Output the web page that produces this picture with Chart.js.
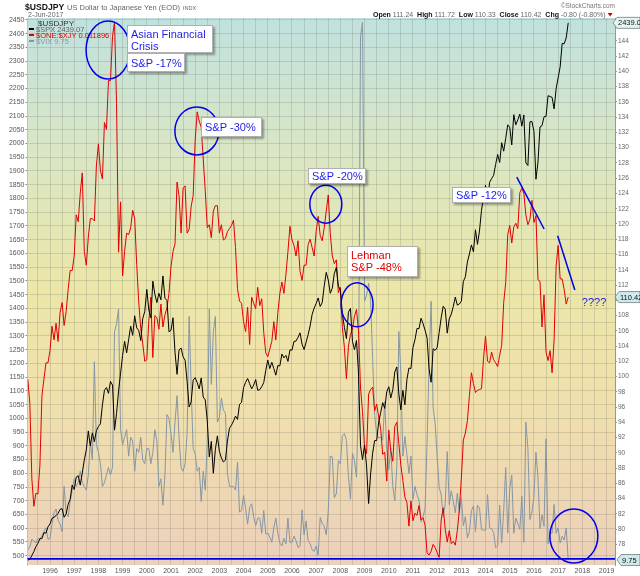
<!DOCTYPE html>
<html>
<head>
<meta charset="utf-8">
<script src="https://cdn.jsdelivr.net/npm/chart.js@4.4.1/dist/chart.umd.min.js"></script>
<style>
  html, body { margin: 0; padding: 0; background: #fff; }
  #wrap { width: 640px; height: 576px; }
</style>
</head>
<body>
<div id="wrap"><canvas id="usdjpyChart" width="640" height="576"></canvas></div>
<script>
// monthly readings, first value = end of Jan 1995, last value = 2-Jun-2017
const firstMonth = 1995 + 1 / 12;

const spx = [
  484, 487, 501, 515, 533, 545, 562, 562, 584, 582, 605, 616,          // 1995
  636, 640, 646, 654, 669, 671, 640, 652, 687, 705, 757, 741,          // 1996
  786, 791, 757, 801, 848, 885, 954, 899, 947, 915, 955, 970,          // 1997
  980, 1049, 1102, 1112, 1091, 1134, 1121, 957, 1017, 1099, 1164, 1229, // 1998
  1280, 1238, 1286, 1335, 1302, 1373, 1329, 1320, 1283, 1363, 1389, 1469,
  1394, 1366, 1499, 1452, 1421, 1455, 1431, 1518, 1437, 1429, 1315, 1320,
  1366, 1240, 1160, 1249, 1256, 1224, 1211, 1134, 1041, 1060, 1139, 1148,
  1130, 1107, 1147, 1077, 1067, 990, 860, 916, 800, 886, 936, 880,     // 2002
  856, 841, 848, 917, 964, 975, 990, 1008, 996, 1051, 1058, 1112,
  1131, 1145, 1126, 1107, 1121, 1141, 1102, 1104, 1115, 1130, 1174, 1212,
  1181, 1204, 1181, 1157, 1192, 1191, 1234, 1220, 1229, 1207, 1249, 1248,
  1280, 1281, 1295, 1311, 1270, 1250, 1277, 1304, 1336, 1378, 1401, 1418,
  1438, 1407, 1421, 1482, 1531, 1503, 1455, 1474, 1527, 1549, 1481, 1468, // 2007
  1379, 1331, 1290, 1386, 1400, 1280, 1250, 1283, 1165, 900, 850, 903, // 2008
  826, 690, 798, 873, 919, 919, 987, 1021, 1057, 1036, 1096, 1115,
  1074, 1104, 1169, 1187, 1089, 1031, 1102, 1049, 1141, 1183, 1181, 1258,
  1286, 1327, 1326, 1364, 1345, 1321, 1292, 1180, 1131, 1253, 1247, 1258,
  1312, 1366, 1408, 1398, 1310, 1362, 1379, 1407, 1441, 1412, 1416, 1426,
  1498, 1515, 1569, 1598, 1631, 1606, 1686, 1633, 1682, 1757, 1806, 1848,
  1783, 1859, 1872, 1884, 1924, 1960, 1931, 2003, 1972, 2018, 2068, 2059,
  1995, 2105, 2068, 2086, 2107, 2063, 2104, 1930, 1920, 2079, 2080, 2044, // 2015
  1870, 1932, 2060, 2065, 2097, 2099, 2174, 2171, 2168, 2126, 2199, 2239,
  2279, 2364, 2363, 2384, 2439.07                                       // 2017
];

const usdjpy = [
  99.6, 96.5, 86.6, 83.0, 84.7, 84.6, 88.4, 97.5, 99.7, 101.8, 101.8, 103.4,
  106.6, 104.8, 107.0, 104.6, 108.4, 109.7, 106.7, 108.5, 111.4, 113.9, 113.9, 115.8,
  121.2, 120.3, 124.0, 126.7, 116.4, 114.6, 118.3, 120.7, 120.7, 120.4, 127.6, 130.5,
  127.0, 125.9, 133.3, 132.4, 138.8, 138.8, 144.6, 146.5, 135.8, 116.3, 122.9, 113.2, // 1998
  116.4, 118.8, 118.6, 119.5, 121.8, 120.7, 114.7, 109.8, 106.3, 104.3, 102.0, 102.2,
  107.3, 110.4, 102.5, 108.0, 107.7, 106.2, 109.5, 106.5, 108.1, 109.0, 110.9, 114.4,
  116.4, 117.4, 125.5, 123.7, 118.8, 124.7, 125.0, 118.8, 119.3, 122.3, 123.7, 131.0,
  134.7, 133.5, 132.7, 128.5, 124.3, 119.5, 119.9, 118.2, 121.7, 122.4, 122.4, 118.8, // 2002
  119.9, 117.9, 118.1, 119.0, 119.4, 119.8, 120.5, 116.9, 111.5, 109.9, 109.6, 107.2,
  105.9, 109.1, 104.2, 110.4, 109.6, 108.9, 111.7, 109.3, 110.2, 105.8, 103.1, 102.6,
  103.6, 104.6, 107.2, 104.8, 108.4, 110.9, 112.4, 110.9, 113.4, 116.4, 119.7, 117.9,
  117.2, 115.8, 117.8, 113.8, 112.6, 114.6, 114.6, 117.3, 118.0, 116.9, 115.8, 119.0,
  121.0, 118.5, 117.8, 119.5, 121.7, 123.8, 118.7, 115.8, 114.8, 115.3, 111.0, 111.7, // 2007
  106.4, 103.8, 99.7, 104.0, 105.5, 106.2, 107.9, 108.8, 106.0, 98.5, 95.4, 90.6,
  89.9, 97.7, 98.3, 98.6, 95.5, 96.4, 94.7, 93.1, 89.8, 90.1, 86.3, 93.0,
  90.3, 88.9, 93.5, 94.0, 91.2, 88.4, 86.4, 84.2, 83.5, 80.4, 83.7, 81.1,
  82.1, 81.8, 83.1, 81.2, 81.5, 80.5, 76.9, 76.6, 77.1, 78.0, 77.6, 76.9,
  76.3, 81.2, 82.8, 80.0, 78.3, 79.8, 78.1, 78.4, 77.9, 79.8, 82.5, 86.7,
  91.7, 92.6, 94.2, 97.5, 100.5, 99.1, 97.9, 98.2, 98.3, 98.4, 102.4, 105.3,
  102.0, 101.8, 103.2, 102.2, 101.8, 101.3, 102.8, 104.1, 109.7, 112.3, 118.6, 119.8,
  117.5, 119.6, 120.1, 119.4, 124.1, 124.7, 124.0, 121.2, 119.9, 120.6, 123.1, 120.2, // 2015
  121.1, 112.7, 112.5, 106.5, 110.7, 103.2, 102.1, 103.4, 100.5, 104.8, 114.5, 117.2,
  112.8, 112.8, 111.4, 109.5, 110.42                                                    // 2017
];

const vix = [
  11.1, 11.5, 12.5, 12.3, 12.0, 12.6, 12.5, 13.0, 13.5, 14.0, 12.5, 12.6,
  14.5, 16.0, 16.5, 15.0, 14.5, 13.5, 19.5, 16.0, 15.5, 17.5, 19.0, 20.5,
  19.5, 20.0, 21.5, 20.0, 19.5, 19.0, 21.0, 25.5, 23.0, 36.0, 25.0, 24.0,
  22.5, 19.5, 20.0, 21.0, 22.0, 21.0, 22.0, 40.0, 41.0, 43.0, 27.0, 25.0, // 1998
  26.0, 27.0, 23.5, 26.0, 25.5, 21.5, 24.5, 24.0, 26.0, 23.0, 22.5, 24.5,
  24.5, 22.5, 24.0, 27.0, 25.5, 19.5, 20.5, 17.0, 21.0, 29.0, 28.5, 26.5,
  24.0, 28.0, 31.5, 26.0, 22.0, 21.5, 22.5, 26.5, 42.0, 32.5, 24.5, 23.8,
  21.5, 22.0, 17.5, 21.5, 19.0, 25.5, 43.0, 33.0, 40.0, 42.0, 28.0, 28.6, // 2002
  31.2, 29.6, 29.2, 21.2, 19.5, 19.5, 19.5, 19.0, 22.7, 16.1, 16.3, 18.3,
  16.6, 14.5, 16.7, 17.2, 15.5, 14.3, 15.3, 15.3, 13.3, 16.3, 13.2, 13.3,
  12.8, 12.1, 14.0, 15.3, 13.3, 12.0, 11.6, 12.6, 11.9, 15.3, 12.1, 12.1,
  12.9, 12.3, 11.4, 11.6, 16.4, 13.1, 14.9, 12.3, 11.9, 11.1, 10.9, 11.6,
  10.4, 15.4, 14.6, 14.2, 13.1, 16.2, 23.5, 23.4, 18.0, 18.5, 22.9, 22.5,
  26.2, 26.5, 25.6, 20.8, 17.8, 23.9, 22.9, 20.7, 32.0, 79.1, 80.9, 44.0, // 2008
  44.8, 46.4, 44.1, 36.5, 28.9, 26.4, 25.9, 26.0, 25.6, 30.7, 24.5, 21.7,
  24.6, 19.5, 17.6, 22.1, 40.0, 34.5, 23.5, 26.1, 23.7, 21.2, 23.5, 17.8,
  19.5, 18.4, 17.7, 14.8, 15.5, 16.5, 25.3, 36.0, 44.0, 29.9, 27.8, 23.4,
  19.4, 18.4, 15.5, 17.2, 24.1, 17.1, 18.9, 17.5, 16.0, 18.6, 16.0, 18.0,
  14.3, 15.5, 12.7, 13.5, 16.3, 16.9, 13.5, 17.0, 16.6, 13.8, 13.7, 13.7,
  18.4, 14.0, 13.9, 13.4, 11.4, 11.6, 17.0, 12.0, 16.3, 22.0, 13.3, 19.2,
  21.0, 13.3, 15.3, 14.6, 13.8, 18.2, 12.1, 28.0, 24.5, 15.1, 16.1, 18.2,
  24.0, 20.6, 13.9, 15.7, 14.2, 25.8, 11.9, 13.4, 13.3, 17.1, 13.3, 14.0,
  12.0, 12.9, 12.4, 14.0, 9.75                                            // 2017
];

const yearLabels = [1996, 1997, 1998, 1999, 2000, 2001, 2002, 2003, 2004, 2005, 2006, 2007,
  2008, 2009, 2010, 2011, 2012, 2013, 2014, 2015, 2016, 2017, 2018, 2019];
const spxTicks = [];
for (let v = 500; v <= 2450; v += 50) spxTicks.push(v);
const yenTicks = [];
for (let v = 78; v <= 144; v += 2) yenTicks.push(v);

const lastValues = { spx: '2439.07', usdjpy: '110.42', vix: '9.75' };

// hand-drawn notes, anchored in (year, yen) units
const notes = [
  { t: 1999.18, v: 146.1, w: 86, h: 28, lines: ['Asian Financial', 'Crisis'], color: '#1d1de6' },
  { t: 1999.18, v: 142.4, w: 58, h: 19, lines: ['S&P -17%'], color: '#1d1de6' },
  { t: 2002.24, v: 134.0, w: 61, h: 20, lines: ['S&P -30%'], color: '#1d1de6' },
  { t: 2006.66, v: 127.3, w: 58, h: 16, lines: ['S&P -20%'], color: '#1d1de6' },
  { t: 2008.27, v: 117.1, w: 71, h: 31, lines: ['Lehman', 'S&P -48%'], color: '#e00000' },
  { t: 2012.61, v: 124.8, w: 59, h: 16, lines: ['S&P -12%'], color: '#1d1de6' }
];
const rings = [
  { t: 1998.40, v: 142.8, rx: 22, ry: 29 },
  { t: 2002.07, v: 132.2, rx: 22, ry: 24 },
  { t: 2007.40, v: 122.6, rx: 16, ry: 19 },
  { t: 2008.69, v: 109.4, rx: 16, ry: 22 },
  { t: 2017.65, v: 79.1, rx: 24, ry: 27 }
];
const strokes = [
  [2015.29, 126.15, 2016.42, 119.34],
  [2016.98, 118.46, 2017.69, 111.34]
];

function toPoints(values) {
  return values.map((v, i) => ({ x: firstMonth + i / 12, y: v }));
}

const tickFont = { family: 'Liberation Sans', size: 7 };
const gridColor = 'rgba(105,110,100,0.22)';

const backdrop = {
  id: 'backdrop',
  beforeDraw(chart) {
    const { ctx, chartArea: a } = chart;
    ctx.save();
    ctx.fillStyle = '#fff';
    ctx.fillRect(0, 0, chart.width, chart.height);
    const g = ctx.createLinearGradient(0, a.top, 0, a.bottom);
    g.addColorStop(0, 'rgb(192,225,222)');
    g.addColorStop(0.25, 'rgb(218,230,196)');
    g.addColorStop(0.5, 'rgb(236,230,168)');
    g.addColorStop(0.7, 'rgb(240,224,172)');
    g.addColorStop(1, 'rgb(236,208,186)');
    ctx.fillStyle = g;
    ctx.fillRect(a.left, a.top, a.right - a.left, a.bottom - a.top);
    ctx.restore();
  }
};

function valueTag(ctx, x0, y, text, fill) {
  ctx.beginPath();
  ctx.moveTo(x0, y);
  ctx.lineTo(x0 + 4, y - 5.5);
  ctx.lineTo(640, y - 5.5);
  ctx.lineTo(640, y + 5.5);
  ctx.lineTo(x0 + 4, y + 5.5);
  ctx.closePath();
  ctx.fillStyle = fill;
  ctx.fill();
  ctx.strokeStyle = '#6f8080';
  ctx.lineWidth = 0.8;
  ctx.stroke();
  ctx.fillStyle = '#111';
  ctx.font = '7.5px "Liberation Sans"';
  ctx.textAlign = 'left';
  ctx.textBaseline = 'middle';
  ctx.fillText(text, x0 + 5, y + 0.5);
}

const overlay = {
  id: 'overlay',
  afterDatasetsDraw(chart) {
    const { ctx, chartArea: a, scales } = chart;
    const px = t => scales.x.getPixelForValue(t);
    const py = v => scales.yen.getPixelForValue(v);
    ctx.save();

    // bottom blue line at the VIX low
    ctx.strokeStyle = '#0000dd';
    ctx.lineWidth = 1.6;
    const yb = scales.vix.getPixelForValue(9.9);
    ctx.beginPath(); ctx.moveTo(a.left, yb); ctx.lineTo(a.right, yb); ctx.stroke();

    // legend
    ctx.textAlign = 'left';
    ctx.textBaseline = 'alphabetic';
    ctx.font = '8px "Liberation Sans"';
    ctx.fillStyle = '#333';
    ctx.fillText('$USDJPY', 38, 25.5);
    const leg = [
      ['$SPX ' + lastValues.spx, '#000', '#666', 31.5],
      ['$ONE:$XJY 0.011896', '#e00000', '#e00000', 37.5],
      ['$VIX ' + lastValues.vix, '#8596a4', '#8a98a4', 43.5]
    ];
    ctx.font = '7.5px "Liberation Sans"';
    leg.forEach(([txt, dash, col, y]) => {
      ctx.strokeStyle = dash; ctx.lineWidth = 2;
      ctx.beginPath(); ctx.moveTo(29, y - 2.5); ctx.lineTo(34, y - 2.5); ctx.stroke();
      ctx.fillStyle = col;
      ctx.fillText(txt, 36, y);
    });

    // circles
    ctx.strokeStyle = '#0000ee';
    ctx.lineWidth = 1.5;
    rings.forEach(r => {
      ctx.beginPath();
      ctx.ellipse(px(r.t), py(r.v), r.rx, r.ry, 0, 0, Math.PI * 2);
      ctx.stroke();
    });
    strokes.forEach(s => {
      ctx.beginPath();
      ctx.moveTo(px(s[0]), py(s[1]));
      ctx.lineTo(px(s[2]), py(s[3]));
      ctx.stroke();
    });

    // note boxes
    notes.forEach(n => {
      const x = Math.round(px(n.t)), y = Math.round(py(n.v));
      ctx.save();
      ctx.shadowColor = 'rgba(0,0,0,0.35)';
      ctx.shadowOffsetX = 2; ctx.shadowOffsetY = 2; ctx.shadowBlur = 2;
      ctx.fillStyle = '#fff';
      ctx.fillRect(x, y, n.w, n.h);
      ctx.restore();
      ctx.strokeStyle = '#b0b0b0'; ctx.lineWidth = 1;
      ctx.strokeRect(x + 0.5, y + 0.5, n.w - 1, n.h - 1);
      ctx.fillStyle = n.color;
      ctx.font = '11px "Liberation Sans"';
      const step = n.lines.length > 1 ? 12.8 : 0;
      const first = n.lines.length > 1 ? 12.5 : n.h / 2 + 4;
      n.lines.forEach((l, i) => ctx.fillText(l, x + 4, y + first + i * step));
    });

    ctx.fillStyle = '#1d1de6';
    ctx.font = '11px "Liberation Sans"';
    ctx.fillText('????', px(2017.98), py(109.3));
    ctx.restore();
  },
  afterDraw(chart) {
    const { ctx, chartArea: a, scales } = chart;
    ctx.save();
    // header
    ctx.textBaseline = 'alphabetic';
    ctx.textAlign = 'left';
    ctx.fillStyle = '#111';
    ctx.font = 'bold 8.6px "Liberation Sans"';
    ctx.fillText('$USDJPY', 25, 10);
    ctx.fillStyle = '#666';
    ctx.font = '7.5px "Liberation Sans"';
    ctx.fillText('US Dollar to Japanese Yen (EOD)', 67, 10);
    ctx.font = '5.5px "Liberation Sans"';
    ctx.fillText('INDX', 183, 10);
    ctx.font = '7px "Liberation Sans"';
    ctx.fillText('2-Jun-2017', 28, 17);
    ctx.font = '6.5px "Liberation Sans"';
    ctx.fillStyle = '#777';
    ctx.textAlign = 'right';
    ctx.fillText('\u00A9StockCharts.com', 615, 7.5);

    const parts = [['Open', 1], [' 111.24  ', 0], ['High', 1], [' 111.72  ', 0], ['Low', 1], [' 110.33  ', 0],
      ['Close', 1], [' 110.42  ', 0], ['Chg', 1], [' -0.80 (-0.80%)', 0]];
    ctx.textAlign = 'left';
    let x = 373;
    parts.forEach(([s, b]) => {
      ctx.font = (b ? 'bold ' : '') + '7px "Liberation Sans"';
      ctx.fillStyle = b ? '#111' : '#666';
      ctx.fillText(s, x, 17);
      x += ctx.measureText(s).width;
    });
    ctx.fillStyle = '#d00000';
    ctx.beginPath(); ctx.moveTo(x + 2, 13); ctx.lineTo(x + 7, 13); ctx.lineTo(x + 4.5, 16.5); ctx.closePath(); ctx.fill();

    // last value tags on the right
    valueTag(ctx, a.right - 2, scales.spx.getPixelForValue(2439.07), lastValues.spx, '#e4f4f2');
    valueTag(ctx, a.right, scales.yen.getPixelForValue(110.42), lastValues.usdjpy, '#cfe9ec');
    valueTag(ctx, a.right + 2, scales.vix.getPixelForValue(9.75), lastValues.vix, '#cfe9ec');
    ctx.restore();
  }
};

new Chart(document.getElementById('usdjpyChart').getContext('2d'), {
  type: 'line',
  data: {
    datasets: [
      { label: '$SPX', data: toPoints(spx), yAxisID: 'spx', borderColor: '#000', borderWidth: 1 },
      { label: '$ONE:$XJY', data: toPoints(usdjpy), yAxisID: 'yen', borderColor: '#e00000', borderWidth: 1 },
      { label: '$VIX', data: toPoints(vix), yAxisID: 'vix', borderColor: '#8596a4', borderWidth: 1 }
    ]
  },
  options: {
    responsive: false,
    animation: false,
    layout: { padding: { top: 18, left: 0, right: 0, bottom: 0 } },
    elements: { point: { radius: 0 }, line: { tension: 0 } },
    plugins: { legend: { display: false }, tooltip: { enabled: false } },
    scales: {
      x: {
        type: 'linear',
        min: 1995.07,
        max: 2019.35,
        afterBuildTicks: axis => {
          const ticks = [{ value: 1995.5 }];
          yearLabels.forEach(y => { ticks.push({ value: y }); if (y < 2019) ticks.push({ value: y + 0.5 }); });
          axis.ticks = ticks;
        },
        afterFit: axis => { axis.height = 11; },
        ticks: {
          autoSkip: false, maxRotation: 0, padding: 2, font: tickFont, color: '#555',
          callback: v => (Number.isInteger(v) ? String(v) : '')
        },
        grid: { color: gridColor, drawTicks: false },
        border: { display: false }
      },
      spx: {
        position: 'left',
        min: 466.2,
        max: 2456.7,
        afterBuildTicks: axis => { axis.ticks = spxTicks.map(v => ({ value: v })); },
        afterFit: axis => { axis.width = 27.5; },
        ticks: { autoSkip: false, padding: 1, font: tickFont, color: '#555', callback: v => String(v) },
        grid: { color: gridColor, tickLength: 2, tickColor: '#888' },
        border: { color: '#a9c9d6' }
      },
      yen: {
        position: 'right',
        min: 75.3,
        max: 147.0,
        afterBuildTicks: axis => { axis.ticks = yenTicks.map(v => ({ value: v })); },
        afterFit: axis => { axis.width = 25; },
        ticks: { autoSkip: false, padding: 1, font: { family: 'Liberation Sans', size: 6.5 }, color: '#666', callback: v => String(v) },
        grid: { drawOnChartArea: false, tickLength: 2, tickColor: '#999' },
        border: { color: '#8a9aa0', dash: [1, 1.5] }
      },
      vix: {
        display: false,
        min: 9.09,
        max: 81.5
      }
    }
  },
  plugins: [backdrop, overlay]
});
</script>
</body>
</html>
